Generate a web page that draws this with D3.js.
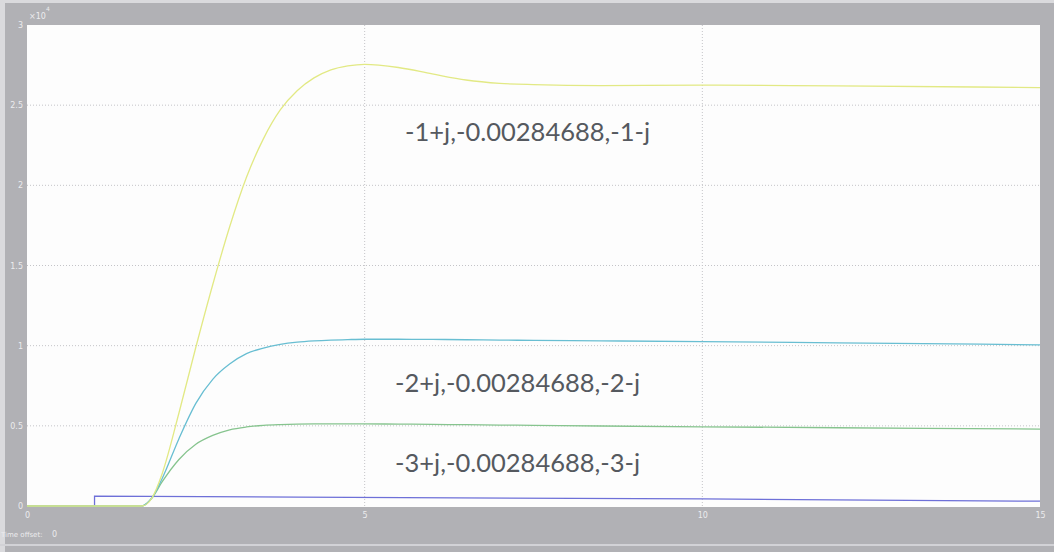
<!DOCTYPE html>
<html><head><meta charset="utf-8">
<script src="https://cdn.jsdelivr.net/npm/d3@7"></script>
<style>html,body{margin:0;padding:0;background:#fff;overflow:hidden}</style>
</head><body><svg id="c" width="1054" height="552"></svg>
<script>
const time   = [0, 1, 1.7, 1.85, 2.0, 2.25, 2.5, 2.75, 3.0, 3.25, 3.5, 3.75, 4.0, 4.25, 4.5, 4.75, 5, 5.5, 6, 6.5, 7, 7.5, 8.5, 10, 12, 15];
const pole1  = [0, 0, 0, 0.05, 0.2, 0.58, 0.99, 1.38, 1.74, 2.05, 2.29, 2.47, 2.59, 2.67, 2.72, 2.745, 2.755, 2.735, 2.695, 2.657, 2.636, 2.628, 2.622, 2.625, 2.62, 2.61];
const pole2  = [0, 0, 0, 0.05, 0.17, 0.42, 0.64, 0.79, 0.885, 0.95, 0.985, 1.008, 1.022, 1.03, 1.035, 1.038, 1.04, 1.04, 1.039, 1.037, 1.035, 1.033, 1.03, 1.025, 1.018, 1.005];
const pole3  = [0, 0, 0, 0.05, 0.15, 0.29, 0.385, 0.44, 0.475, 0.493, 0.503, 0.508, 0.511, 0.512, 0.512, 0.512, 0.512, 0.511, 0.509, 0.507, 0.505, 0.503, 0.499, 0.494, 0.488, 0.48];
const inputT = [0, 1, 1, 4, 10, 15];
const inputV = [0, 0, 0.062, 0.055, 0.044, 0.03];
const yTicks = [0, 0.5, 1, 1.5, 2, 2.5, 3];
const xTicks = [0, 5, 10, 15];
const labels = ["-1+j,-0.00284688,-1-j", "-2+j,-0.00284688,-2-j", "-3+j,-0.00284688,-3-j"];

const svg = d3.select("#c");
const L = 27, T = 25, R = 1040, B = 506;
const x = d3.scaleLinear().domain([0, 15]).range([L, R]);
const y = d3.scaleLinear().domain([0, 3]).range([B, T]);

// frame
svg.append("rect").attr("width", 1054).attr("height", 552).attr("fill", "#b1b1b5");
svg.append("rect").attr("x", 0).attr("y", 0).attr("width", 5).attr("height", 552).attr("fill", "#dadadd");
svg.append("rect").attr("x", 0).attr("y", 0).attr("width", 1054).attr("height", 3).attr("fill", "#dadadd");
svg.append("rect").attr("x", 0).attr("y", 544).attr("width", 1054).attr("height", 2).attr("fill", "#d2d2d6");
svg.append("rect").attr("x", L).attr("y", T).attr("width", R - L).attr("height", B - T + 1).attr("fill", "#fdfdfd");

// grid
const g = svg.append("g");
g.selectAll(".gy").data(yTicks.filter(d => d > 0 && d < 3)).join("line")
  .attr("x1", L).attr("x2", R).attr("y1", d => y(d)).attr("y2", d => y(d))
  .attr("stroke", "#c4c4c8").attr("stroke-width", 1).attr("stroke-dasharray", "1,2");
g.selectAll(".gx").data(xTicks.filter(d => d > 0 && d < 15)).join("line")
  .attr("x1", d => x(d)).attr("x2", d => x(d)).attr("y1", T).attr("y2", B)
  .attr("stroke", "#c4c4c8").attr("stroke-width", 1).attr("stroke-dasharray", "1,2");

// axes
const yAxis = d3.axisLeft(y).tickValues(yTicks).tickSize(0).tickPadding(4).tickFormat(d => String(d));
const ya = svg.append("g").attr("transform", `translate(${L},0)`).call(yAxis);
const xAxis = d3.axisBottom(x).tickValues(xTicks).tickSize(0).tickPadding(6).tickFormat(d => String(d));
const xa = svg.append("g").attr("transform", `translate(0,${B})`).call(xAxis);
[ya, xa].forEach(a => {
  a.select(".domain").remove();
  a.selectAll("text").attr("fill", "#ececee").style("font-family", "DejaVu Sans").style("font-size", "8px");
});
svg.append("text").attr("x", 29).attr("y", 19).attr("fill", "#ececee")
  .style("font-family", "DejaVu Sans").style("font-size", "8px").text("×10");
svg.append("text").attr("x", 46).attr("y", 11).attr("fill", "#ececee")
  .style("font-family", "DejaVu Sans").style("font-size", "6px").text("4");
svg.append("text").attr("x", 1).attr("y", 537).attr("fill", "#ececee")
  .style("font-family", "DejaVu Sans").style("font-size", "7px").text("Time offset:");
svg.append("text").attr("x", 52).attr("y", 537).attr("fill", "#ececee")
  .style("font-family", "DejaVu Sans").style("font-size", "8px").text("0");

// lines
const line = d3.line().x(d => x(d[0])).y(d => y(d[1])).curve(d3.curveMonotoneX);
const lineLin = d3.line().x(d => x(d[0])).y(d => y(d[1]));
const series = [
  {v: pole3, c: "#86c48e"},
  {v: pole2, c: "#68bed2"},
  {v: pole1, c: "#e2e984"}
];
svg.append("path").attr("d", lineLin(inputT.map((t, i) => [t, inputV[i]])))
  .attr("fill", "none").attr("stroke", "#6e70d8").attr("stroke-width", 1.3);
series.forEach(s => {
  svg.append("path").attr("d", line(time.map((t, i) => [t, s.v[i]])))
    .attr("fill", "none").attr("stroke", s.c).attr("stroke-width", 1.3);
});

// annotations
const pos = [[405, 141], [395, 392], [395, 472]];
labels.forEach((t, i) => {
  svg.append("text").attr("x", pos[i][0]).attr("y", pos[i][1]).attr("fill", "#55595f")
    .style("font-family", "Lato").style("font-size", "25.5px").text(t);
});
</script></body></html>
